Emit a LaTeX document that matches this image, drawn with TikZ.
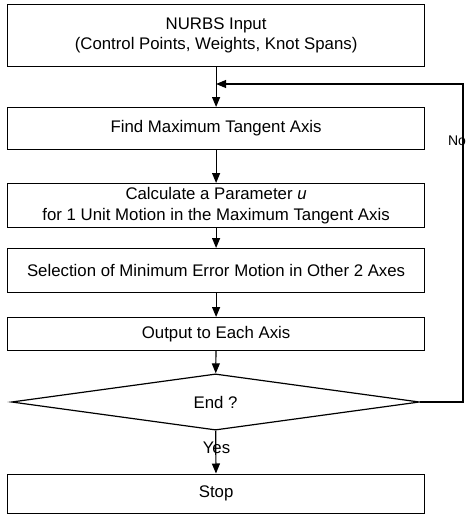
\documentclass[tikz,border=0pt]{standalone}
\usepackage{fontspec}
\setmainfont{Liberation Sans}
\usetikzlibrary{arrows.meta,shapes.geometric}
\begin{document}
\begin{tikzpicture}[x=1pt,y=-1pt,
  txt/.style={font=\fontsize{16.8}{20.5}\selectfont},
  box/.style={txt, draw, line width=1.2pt, minimum width=417pt, anchor=north west,
    inner sep=0pt, align=center},
  lbl/.style={txt, inner sep=0pt},
  arr/.style={-{Triangle[length=10pt,width=8pt]}, line width=1.2pt}]
\useasboundingbox (0,0) rectangle (467,514);
\node[box, minimum height=62pt] (b1) at (7,4) {NURBS Input\\(Control Points, Weights, Knot Spans)};
\node[box, minimum height=42pt] (b2) at (7,107) {Find Maximum Tangent Axis};
\node[box, minimum height=44pt] (b3) at (7,183) {Calculate a Parameter \textit{u}\\for 1 Unit Motion in the Maximum Tangent Axis};
\node[box, minimum height=44pt] (b4) at (7,248) {Selection of Minimum Error Motion in Other 2 Axes};
\node[box, minimum height=33pt] (b5) at (7,317) {Output to Each Axis};
\node[txt, draw, diamond, line width=1.2pt, minimum width=408pt, minimum height=39pt, inner sep=0pt]
  (d) at (215.5,402) {End ?};
\node[box, minimum height=39pt] (stop) at (7,473.5) {Stop};
\coordinate (r1) at (463,402);
\coordinate (r2) at (463,84);
\coordinate (j) at (b1.south |- r2);
\draw[arr] (b1) -- (b2);
\draw[arr] (b2) -- (b3);
\draw[arr] (b3) -- (b4);
\draw[arr] (b4) -- (b5);
\draw[arr] (b5) -- (d);
\draw[arr] (d) -- (stop);
\draw[arr] (d.east) -- (r1) -- (r2) -- (j);
\node[lbl, font=\fontsize{14}{16}\selectfont] (no) at (457,141) {No};
\node[lbl] (yes) at (216.5,448) {Yes};
\end{tikzpicture}
\end{document}
